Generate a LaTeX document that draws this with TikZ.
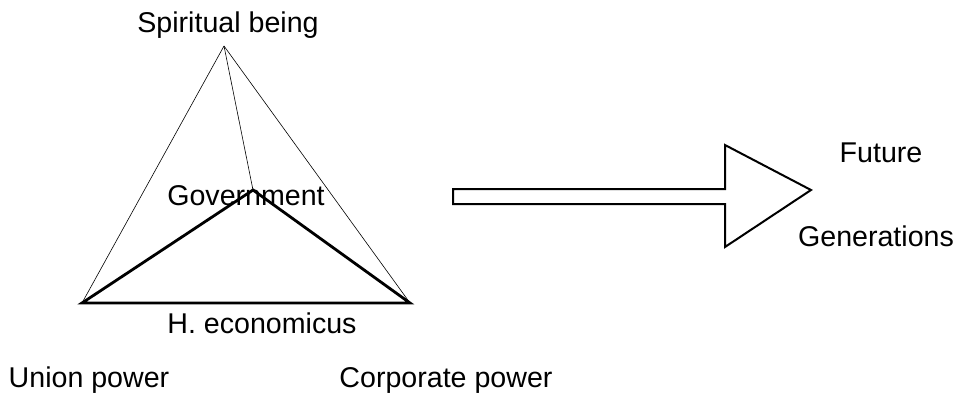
\documentclass[tikz,border=0pt]{standalone}
\usepackage{fontspec}
\setmainfont{Liberation Sans}
\tikzset{
  lbl/.style={anchor=base, inner sep=0pt, font=\fontsize{28.6}{34}\selectfont},
  thinedge/.style={line width=0.6pt},
  thickedge/.style={line width=2.8pt, line join=miter},
}
\begin{document}
\begin{tikzpicture}[x=1pt, y=-1pt]
        \useasboundingbox (0,0) rectangle (956,394);
        % corners of the pyramid
        \coordinate (sb) at (224,46);
        \coordinate (gov) at (253,190);
        \coordinate (up) at (82,303);
        \coordinate (cp) at (410,303);

        % labels
        \node[lbl] (sbl) at (228,32) {Spiritual being};
        \node[lbl] (govl) at (246,205) {Government};
        \node[lbl] (hel) at (262,333) {H. economicus};
        \node[lbl] (upl) at (89,387) {Union power};
        \node[lbl] (cpl) at (446,387) {Corporate power};
        \node[lbl] (fl) at (881,162) {Future};
        \node[lbl] (gl) at (876,246) {Generations};

        % edges
        \draw[thinedge] (sb) -- (up);
        \draw[thinedge] (sb) -- (cp);
        \draw[thinedge] (sb) -- (gov);
        \draw[thickedge] (up) -- (gov) -- (cp) -- cycle;

        % block arrow
        \draw[line width=2pt, line join=miter]
          (453,189) -- (725,189) -- (725,145) -- (811,190) -- (725,247)
          -- (725,204) -- (453,204) -- cycle;
\end{tikzpicture}
\end{document}
